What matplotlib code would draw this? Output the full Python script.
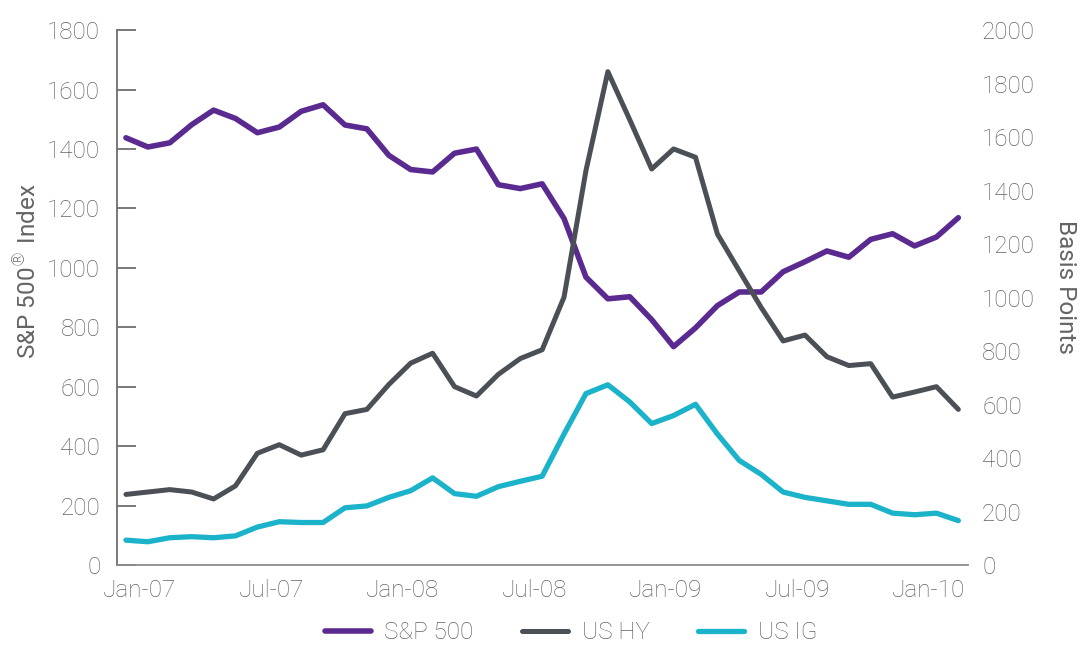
import matplotlib
matplotlib.use('Agg')
import matplotlib.pyplot as plt

# monthly values, Jan-07 .. Mar-10
sp500 = [1438, 1407, 1421, 1482, 1531, 1503, 1455, 1474, 1527, 1549, 1481, 1468,
         1379, 1331, 1323, 1386, 1400, 1280, 1267, 1283, 1166, 969, 896, 903,
         826, 735, 798, 873, 919, 919, 987, 1021, 1057, 1036, 1096, 1115,
         1074, 1104, 1169]
us_hy = [264, 273, 282, 273, 247, 296, 418, 450, 411, 431, 566, 582,
         675, 755, 792, 667, 632, 713, 772, 805, 1002, 1475, 1845, 1665,
         1481, 1556, 1525, 1238, 1100, 963, 838, 860, 779, 746, 753, 628,
         647, 667, 582]
us_ig = [93, 87, 102, 106, 102, 109, 142, 162, 159, 159, 214, 221,
         253, 278, 326, 267, 257, 293, 313, 332, 490, 641, 674, 610,
         529, 559, 601, 490, 391, 339, 273, 253, 240, 227, 227, 194,
         188, 194, 166]
tick_labels = ['Jan-07', 'Jul-07', 'Jan-08', 'Jul-08', 'Jan-09', 'Jul-09', 'Jan-10']

PURPLE = '#5b2a90'
DARK = '#4b5056'
CYAN = '#1bb3c9'
TXT = '#636467'

plt.rcParams['font.family'] = ['Roboto', 'DejaVu Sans']
plt.rcParams['font.weight'] = 'light'

fig = plt.figure(figsize=(10.83, 6.57), dpi=100)
ax = fig.add_axes([0.108, 0.140, 0.786, 0.814])
ax2 = ax.twinx()

x = list(range(len(sp500)))
l1, = ax.plot(x, sp500, color=PURPLE, lw=4.0, solid_capstyle='round', label='S&P 500')
l2, = ax2.plot(x, us_hy, color=DARK, lw=3.6, solid_capstyle='round', label='US HY')
l3, = ax2.plot(x, us_ig, color=CYAN, lw=3.8, solid_capstyle='round', label='US IG')

ax.set_xlim(-0.41, 38.45)
ax.set_ylim(0, 1800)
ax2.set_ylim(0, 2000)
ax.set_yticks(range(0, 1801, 200))
ax2.set_yticks(range(0, 2001, 200))
ax.set_xticks([0.64 + 6 * k for k in range(len(tick_labels))])
ax.set_xticklabels(tick_labels)

for a in (ax, ax2):
    for s in ('top', 'right'):
        a.spines[s].set_visible(False)
ax2.spines['left'].set_visible(False)
ax2.spines['bottom'].set_visible(False)
ax.spines['left'].set_color('#6d6e71')
ax.spines['bottom'].set_color('#8a8b8e')
ax.spines['left'].set_linewidth(1.3)
ax.spines['bottom'].set_linewidth(1.3)

ax.tick_params(axis='y', direction='in', length=14, width=1.3, color='#6d6e71',
               labelsize=17.5, labelcolor=TXT, pad=12)
ax.tick_params(axis='x', length=0, labelsize=17.5, labelcolor=TXT, pad=10)
ax2.tick_params(axis='y', length=0, labelsize=17.5, labelcolor=TXT, pad=10)

ax.set_ylabel('S&P 500$^{®}$ Index', fontsize=17.5, color=TXT, va='center')
ax.yaxis.set_label_coords(-0.105, 0.55)
ax2.set_ylabel('Basis Points', fontsize=17.5, color=TXT, rotation=270, va='center')
ax2.yaxis.set_label_coords(1.114, 0.52)

fig.legend(handles=[l1, l2, l3], loc='center', bbox_to_anchor=(0.527, 0.037),
           ncol=3, frameon=False, fontsize=17.5, labelcolor=TXT,
           handlelength=1.9, handletextpad=0.55, columnspacing=2.0)

fig.savefig('out.png', dpi=100)
